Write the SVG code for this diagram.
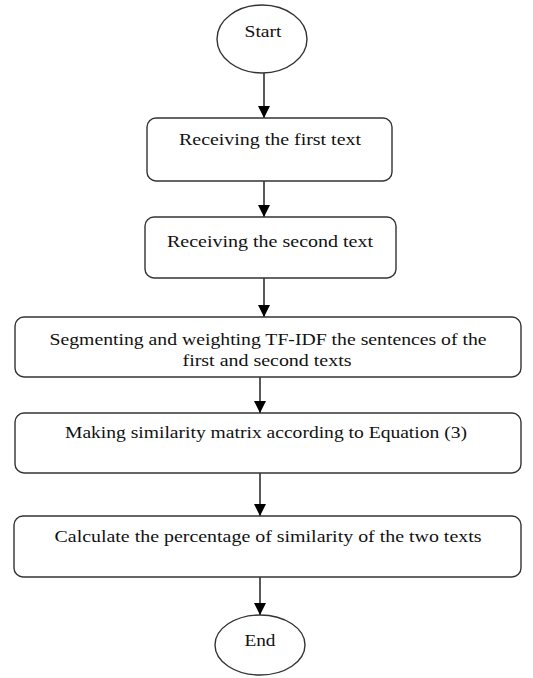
<svg xmlns="http://www.w3.org/2000/svg" width="533" height="678" viewBox="0 0 533 678">
<defs>
<marker id="arr" markerWidth="12" markerHeight="12" refX="12" refY="6" orient="auto" markerUnits="userSpaceOnUse">
<path d="M0,0 L12,6 L0,12 Z" fill="#000"/>
</marker>
<style>
.box{fill:#fff;stroke:#333;stroke-width:1.4}
.t{font-family:"Liberation Serif","Times New Roman",serif;font-size:16px;fill:#111;text-anchor:middle}
.c{stroke:#000;stroke-width:1.3;fill:none;marker-end:url(#arr)}
</style>
</defs>
<rect width="533" height="678" fill="#fff"/>
<g id="connectors">
<line class="c" x1="264" y1="73" x2="264" y2="118"/>
<line class="c" x1="264" y1="181" x2="264" y2="217"/>
<line class="c" x1="264" y1="278" x2="264" y2="317"/>
<line class="c" x1="260" y1="377" x2="260" y2="413"/>
<line class="c" x1="260" y1="473" x2="260" y2="516"/>
<line class="c" x1="260" y1="577" x2="260" y2="615"/>
</g>
<g id="start">
<ellipse class="box" cx="262" cy="39" rx="45" ry="34"/>
<text class="t" x="263" y="37" textLength="37" lengthAdjust="spacingAndGlyphs">Start</text>
</g>
<g id="n1">
<rect class="box" x="147" y="118" width="245" height="63" rx="9"/>
<text class="t" x="270" y="145" textLength="182" lengthAdjust="spacingAndGlyphs">Receiving the first text</text>
</g>
<g id="n2">
<rect class="box" x="145" y="217" width="251" height="61" rx="9"/>
<text class="t" x="270" y="247" textLength="206" lengthAdjust="spacingAndGlyphs">Receiving the second text</text>
</g>
<g id="n3">
<rect class="box" x="15" y="317" width="506" height="60" rx="9"/>
<text class="t" x="268" y="345" textLength="437" lengthAdjust="spacingAndGlyphs">Segmenting and weighting TF-IDF the sentences of the</text>
<text class="t" x="267" y="366" textLength="169" lengthAdjust="spacingAndGlyphs">first and second texts</text>
</g>
<g id="n4">
<rect class="box" x="15" y="413" width="506" height="60" rx="9"/>
<text class="t" x="266" y="438" textLength="402" lengthAdjust="spacingAndGlyphs">Making similarity matrix according to Equation (3)</text>
</g>
<g id="n5">
<rect class="box" x="14" y="516" width="507" height="61" rx="9"/>
<text class="t" x="268" y="542" textLength="427" lengthAdjust="spacingAndGlyphs">Calculate the percentage of similarity of the two texts</text>
</g>
<g id="end">
<ellipse class="box" cx="260" cy="645" rx="45" ry="30"/>
<text class="t" x="260" y="646" textLength="31" lengthAdjust="spacingAndGlyphs">End</text>
</g>
</svg>
